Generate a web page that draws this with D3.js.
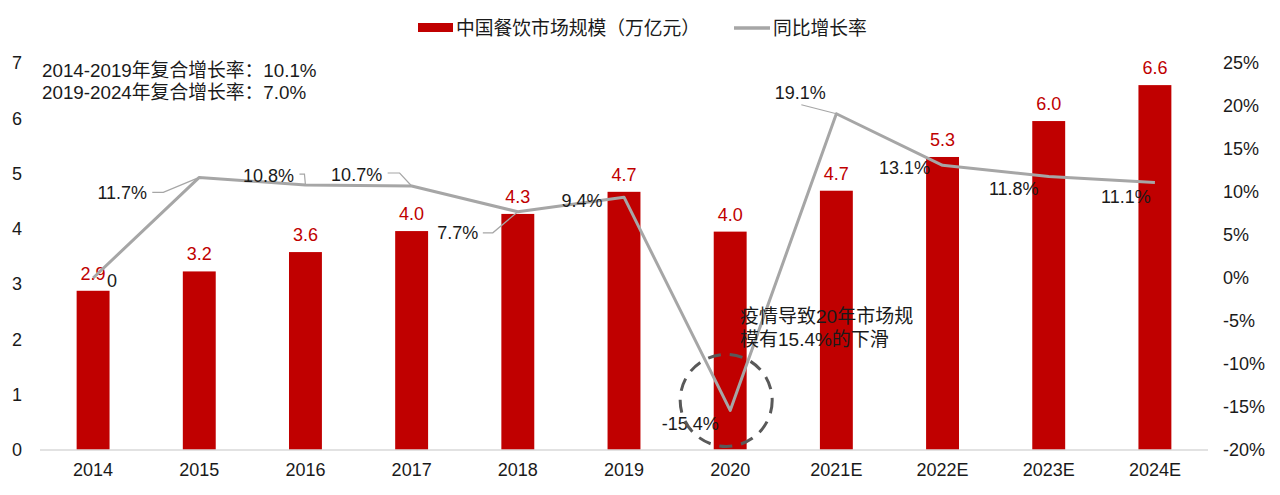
<!DOCTYPE html>
<html>
<head>
<meta charset="utf-8">
<script src="https://cdn.jsdelivr.net/npm/d3@7"></script>
<style>
  html, body { margin: 0; padding: 0; background: #fff; }
  svg text { font-family: "Liberation Sans", Arial, "Noto Sans CJK SC", sans-serif; }
</style>
</head>
<body>
<svg id="chart" width="1280" height="495"></svg>
<script>
// 中国餐饮市场规模 + 同比增长率 — bars on left axis, growth line on right axis.
(function () {
  "use strict";

  const YEARS = ["2014", "2015", "2016", "2017", "2018", "2019", "2020", "2021E", "2022E", "2023E", "2024E"];
  const MARKET_SIZE = [2.88, 3.23, 3.58, 3.96, 4.27, 4.67, 3.95, 4.69, 5.30, 5.95, 6.60]; // 万亿元
  const GROWTH = [0, 11.7, 10.8, 10.7, 7.7, 9.4, -15.4, 19.1, 13.1, 11.8, 11.1];          // %
  const GROWTH_LABELS = ["0", "11.7%", "10.8%", "10.7%", "7.7%", "9.4%", "-15.4%", "19.1%", "13.1%", "11.8%", "11.1%"];
  const LEFT_TICKS = [0, 1, 2, 3, 4, 5, 6, 7];
  const RIGHT_TICKS = [-20, -15, -10, -5, 0, 5, 10, 15, 20, 25];
  const SERIES_NAMES = ["中国餐饮市场规模（万亿元）", "同比增长率"];
  const CAGR_NOTES = ["2014-2019年复合增长率：10.1%", "2019-2024年复合增长率：7.0%"];
  const DROP_NOTE = ["疫情导致20年市场规", "模有15.4%的下滑"];

  const BAR_COLOR = "#c00000";
  const LINE_COLOR = "#a6a6a6";
  const TEXT_COLOR = "#1a1a1a";
  const NUM_SIZE = 18;   // latin numbers: ticks + data labels
  const CJK_SIZE = 18.8; // chinese notes + legend

  // Excel-style label placement: offset of label centre from its point, and
  // optional leader polyline (relative to the label centre) back to the point.
  const LABEL_LAYOUT = [
    { dx: 19,  dy: 3,   leader: null },
    { dx: -77, dy: 15,  leader: [[30, 0], [41, 0]] },
    { dx: -37, dy: -9,  leader: [[31, -2], [36, -2]] },
    { dx: -55, dy: -11, leader: [[31, -2], [43, -2]] },
    { dx: -60, dy: 21,  leader: [[25, 0], [35, 0]] },
    { dx: -42, dy: 4,   leader: null },
    { dx: -40, dy: 13,  leader: null },
    { dx: -36, dy: -21, leader: [[1, 12]] },
    { dx: -38, dy: 2,   leader: null },
    { dx: -35, dy: 12,  leader: null },
    { dx: -29, dy: 14,  leader: null }
  ];

  const svg = d3.select("#chart");

  const X0 = 40, X1 = 1208, Y0 = 450, Y1 = 63;

  const x = d3.scaleBand().domain(YEARS).range([X0, X1]).paddingInner(0.69).paddingOuter(0.345);
  const yL = d3.scaleLinear().domain([0, 7]).range([Y0, Y1]);
  const yR = d3.scaleLinear().domain([-20, 25]).range([Y0, Y1]);
  const cx = function (d) { return x(d) + x.bandwidth() / 2; };

  // Bars
  svg.append("g").selectAll("rect")
    .data(YEARS)
    .join("rect")
    .attr("x", function (d) { return x(d); })
    .attr("width", x.bandwidth())
    .attr("y", function (d, i) { return yL(MARKET_SIZE[i]); })
    .attr("height", function (d, i) { return Y0 - yL(MARKET_SIZE[i]); })
    .attr("fill", BAR_COLOR);

  // Baseline
  svg.append("line")
    .attr("x1", X0).attr("x2", X1).attr("y1", Y0).attr("y2", Y0)
    .attr("stroke", "#d9d9d9").attr("stroke-width", 1.5);

  // Bar value labels
  svg.append("g").selectAll("text")
    .data(YEARS)
    .join("text")
    .attr("x", cx)
    .attr("y", function (d, i) { return yL(MARKET_SIZE[i]) - 11; })
    .attr("text-anchor", "middle")
    .attr("font-size", NUM_SIZE)
    .attr("fill", BAR_COLOR)
    .text(function (d, i) { return d3.format(".1f")(MARKET_SIZE[i]); });

  // Growth line
  const line = d3.line()
    .x(function (d, i) { return cx(YEARS[i]); })
    .y(function (d) { return yR(d); });
  svg.append("path")
    .datum(GROWTH)
    .attr("d", line)
    .attr("fill", "none")
    .attr("stroke", LINE_COLOR)
    .attr("stroke-width", 3)
    .attr("stroke-linejoin", "round");

  // Growth labels with leader lines
  const lg = svg.append("g");
  GROWTH.forEach(function (v, i) {
    const px = cx(YEARS[i]), py = yR(v);
    const L = LABEL_LAYOUT[i];
    const lx = px + L.dx, ly = py + L.dy;
    if (L.leader) {
      const pts = L.leader.map(function (p) { return [lx + p[0], ly + p[1]]; });
      pts.push([px, py]);
      lg.append("path")
        .attr("d", d3.line()(pts))
        .attr("fill", "none")
        .attr("stroke", LINE_COLOR)
        .attr("stroke-width", 1.2);
    }
    lg.append("text")
      .attr("x", lx).attr("y", ly)
      .attr("dy", "0.35em")
      .attr("text-anchor", "middle")
      .attr("font-size", NUM_SIZE)
      .attr("fill", TEXT_COLOR)
      .text(GROWTH_LABELS[i]);
  });

  // Axes
  const axL = svg.append("g")
    .attr("transform", "translate(24,0)")
    .call(d3.axisLeft(yL).tickValues(LEFT_TICKS).tickSize(0).tickPadding(2).tickFormat(d3.format("d")));
  const axR = svg.append("g")
    .attr("transform", "translate(1214,0)")
    .call(d3.axisRight(yR).tickValues(RIGHT_TICKS).tickSize(0).tickPadding(9).tickFormat(function (d) { return d + "%"; }));
  const axB = svg.append("g")
    .attr("transform", "translate(0," + Y0 + ")")
    .call(d3.axisBottom(x).tickSize(0).tickPadding(13));
  [axL, axR, axB].forEach(function (g) {
    g.select(".domain").remove();
    g.selectAll("text")
      .attr("font-size", NUM_SIZE)
      .attr("fill", TEXT_COLOR)
      .style("font-family", "'Liberation Sans', Arial, sans-serif");
  });

  // Legend
  const leg = svg.append("g").attr("font-size", CJK_SIZE).attr("fill", TEXT_COLOR);
  leg.append("rect").attr("x", 418).attr("y", 23).attr("width", 35).attr("height", 9).attr("fill", BAR_COLOR);
  leg.append("text").attr("x", 456).attr("y", 28).attr("dy", "0.35em").text(SERIES_NAMES[0]);
  leg.append("line").attr("x1", 734).attr("x2", 770).attr("y1", 28).attr("y2", 28)
    .attr("stroke", LINE_COLOR).attr("stroke-width", 3.5);
  leg.append("text").attr("x", 773).attr("y", 28).attr("dy", "0.35em").text(SERIES_NAMES[1]);

  // CAGR notes
  svg.append("g").selectAll("text")
    .data(CAGR_NOTES)
    .join("text")
    .attr("x", 42)
    .attr("y", function (d, i) { return 70 + i * 22; })
    .attr("dy", "0.35em")
    .attr("font-size", CJK_SIZE)
    .attr("fill", TEXT_COLOR)
    .text(function (d) { return d; });

  // 2020 drop annotation
  const i20 = YEARS.indexOf("2020");
  svg.append("circle")
    .attr("cx", cx(YEARS[i20]) - 4)
    .attr("cy", yR(GROWTH[i20]) - 10)
    .attr("r", 46)
    .attr("fill", "none")
    .attr("stroke", "#595959")
    .attr("stroke-width", 3)
    .attr("stroke-dasharray", "13 9");
  svg.append("g").selectAll("text")
    .data(DROP_NOTE)
    .join("text")
    .attr("x", 740)
    .attr("y", function (d, i) { return 316 + i * 23; })
    .attr("dy", "0.35em")
    .attr("font-size", 19)
    .attr("fill", TEXT_COLOR)
    .text(function (d) { return d; });
})();
</script>
</body>
</html>
